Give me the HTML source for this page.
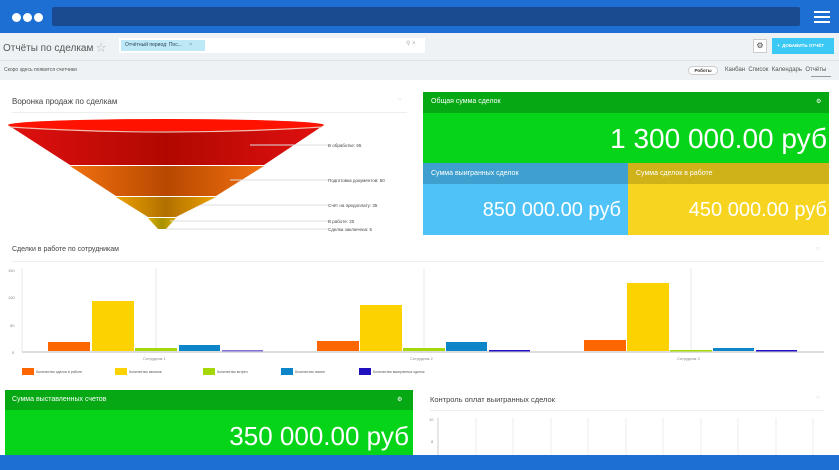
<!DOCTYPE html>
<html><head><meta charset="utf-8"><style>
*{margin:0;padding:0;box-sizing:border-box}
body{width:839px;height:470px;overflow:hidden;background:#fff;font-family:"Liberation Sans","Noto Sans CJK SC",sans-serif;position:relative;color:#333}
div,span{position:absolute}
.t{white-space:nowrap}
</style></head><body>
<div style="left:0;top:0;width:839px;height:33px;background:#1e6fd4"></div>
<div style="left:52px;top:7px;width:748px;height:19px;background:#1a4a8f;border-radius:2px"></div>
<div style="left:12px;top:13px;width:9px;height:9px;border-radius:50%;background:#fff"></div>
<div style="left:23px;top:13px;width:9px;height:9px;border-radius:50%;background:#fff"></div>
<div style="left:34px;top:13px;width:9px;height:9px;border-radius:50%;background:#fff"></div>
<div style="left:814px;top:11px;width:16px;height:2px;background:#fff"></div>
<div style="left:814px;top:16px;width:16px;height:2px;background:#fff"></div>
<div style="left:814px;top:21px;width:16px;height:2px;background:#fff"></div>
<div style="left:0;top:33px;width:839px;height:47px;background:#eef2f4"></div>
<div class="t" style="left:3px;top:39px;font-size:10px;color:#555">Отчёты по сделкам <span style="position:static;color:#bbb">☆</span></div>
<div style="left:119px;top:38px;width:306px;height:15px;background:#fff"></div>
<div class="t" style="left:121px;top:40px;width:84px;height:11px;background:#bde9f7;font-size:5px;padding:2px 4px;color:#345">Отчётный период: Пос... <span style="position:static;color:#789;margin-left:6px">×</span></div>
<div class="t" style="left:406px;top:40px;font-size:6px;color:#aaa">⚲ ×</div>
<div style="left:0;top:60px;width:839px;height:1px;background:#dde3e6"></div>
<div style="left:753px;top:39px;width:14px;height:14px;background:#fff;border:1px solid #ccc;font-size:8px;text-align:center;line-height:12px;color:#444">⚙</div>
<div class="t" style="left:772px;top:38px;width:62px;height:16px;background:#3bc8f5;color:#fff;font-size:4.5px;font-weight:bold;line-height:16px;padding-left:5px">+ &nbsp;ДОБАВИТЬ ОТЧЁТ</div>
<div class="t" style="left:4px;top:67px;font-size:5px;color:#555">Скоро здесь появится счетчики</div>
<div class="t" style="left:688px;top:66px;width:30px;height:9px;border:1px solid #ccc;border-radius:5px;background:#fff;font-size:4.5px;text-align:center;line-height:7px;font-weight:bold">Роботы</div>
<div class="t" style="left:725px;top:67px;font-size:6px;color:#555">Канбан &nbsp;Список &nbsp;Календарь &nbsp;Отчёты</div>
<div style="left:811px;top:76px;width:20px;height:1px;background:#999"></div>

<div class="t" style="left:12px;top:97px;font-size:8px;color:#444">Воронка продаж по сделкам</div>
<div class="t" style="left:398px;top:97px;font-size:6px;color:#ccc">○</div>
<div style="left:12px;top:112px;width:395px;height:1px;background:#eee"></div>
<svg style="position:absolute;left:0;top:110px" width="420" height="125">
<defs>
<linearGradient id="r" x1="0" x2="1"><stop offset="0" stop-color="#e01010"/><stop offset=".5" stop-color="#b00800"/><stop offset="1" stop-color="#e01010"/></linearGradient>
<linearGradient id="o" x1="0" x2="1"><stop offset="0" stop-color="#f07010"/><stop offset=".5" stop-color="#b84800"/><stop offset="1" stop-color="#f07010"/></linearGradient>
<linearGradient id="y" x1="0" x2="1"><stop offset="0" stop-color="#eca000"/><stop offset=".5" stop-color="#b07000"/><stop offset="1" stop-color="#eca000"/></linearGradient>
<linearGradient id="g" x1="0" x2="1"><stop offset="0" stop-color="#d8b000"/><stop offset=".5" stop-color="#a89000"/><stop offset="1" stop-color="#d8b000"/></linearGradient>
</defs>
<polygon points="8,15 324,15 264,55 70,55" fill="url(#r)"/>
<polygon points="70,56 264,56 216,86 116,86" fill="url(#o)"/>
<polygon points="116,87 216,87 176,107 148,107" fill="url(#y)"/>
<polygon points="148,108 176,108 166,119 158,119" fill="url(#g)"/>
<ellipse cx="166" cy="15" rx="158" ry="6" fill="#ff1200"/>
<path d="M10,17 Q166,27 322,17" stroke="#f2c0b0" fill="none" stroke-width="1.2"/>
<g stroke="#ddd" stroke-width="1">
<line x1="250" y1="35" x2="328" y2="35"/><line x1="230" y1="70" x2="328" y2="70"/><line x1="200" y1="95" x2="328" y2="95"/><line x1="170" y1="111" x2="328" y2="111"/><line x1="166" y1="119" x2="328" y2="119"/></g>
<g font-size="4.5" fill="#444" font-family="Liberation Sans,sans-serif">
<text x="328" y="37">В обработке: 65</text><text x="328" y="72">Подготовка документов: 50</text><text x="328" y="97">Счёт на предоплату: 35</text><text x="328" y="113">В работе: 20</text><text x="328" y="121">Сделка заключена: 5</text></g>
</svg>

<div style="left:423px;top:92px;width:406px;height:21px;background:#06a814"></div>
<div class="t" style="left:431px;top:98px;font-size:7px;color:#fff">Общая сумма сделок</div>
<div class="t" style="left:816px;top:98px;font-size:6px;color:#fff">⚙</div>
<div style="left:423px;top:113px;width:406px;height:50px;background:#06d418"></div>
<div class="t" style="right:12px;top:123px;font-size:28px;color:#fff">1 300 000.00 руб</div>
<div style="left:423px;top:163px;width:205px;height:21px;background:#3fa0cf"></div>
<div class="t" style="left:431px;top:170px;font-size:7px;color:#fff">Сумма выигранных сделок</div>
<div style="left:423px;top:184px;width:205px;height:51px;background:#4fc3f7"></div>
<div class="t" style="right:218px;top:199px;font-size:20px;color:#fff">850 000.00 руб</div>
<div style="left:628px;top:163px;width:201px;height:21px;background:#cfb21a"></div>
<div class="t" style="left:636px;top:170px;font-size:7px;color:#fff">Сумма сделок в работе</div>
<div style="left:628px;top:184px;width:201px;height:51px;background:#f7d420"></div>
<div class="t" style="right:12px;top:199px;font-size:20px;color:#fff">450 000.00 руб</div>

<div class="t" style="left:12px;top:246px;font-size:7px;color:#444">Сделки в работе по сотрудникам</div>
<div class="t" style="left:816px;top:246px;font-size:6px;color:#ccc">○</div>
<div style="left:12px;top:261px;width:812px;height:1px;background:#eee"></div>
<svg style="position:absolute;left:0;top:262px" width="839" height="120">
<g stroke="#e8e8e8"><line x1="156" y1="6" x2="156" y2="90"/><line x1="424" y1="6" x2="424" y2="90"/><line x1="691" y1="6" x2="691" y2="90"/><line x1="22" y1="6" x2="22" y2="90"/><line x1="22" y1="90" x2="824" y2="90" stroke="#ddd" stroke-width="2"/></g>
<g font-size="4" fill="#888" font-family="Liberation Sans,sans-serif"><text x="8" y="10">150</text><text x="8" y="37">100</text><text x="10" y="65">50</text><text x="12" y="92">0</text>
<text x="143" y="98">Сотрудник 1</text><text x="410" y="98">Сотрудник 2</text><text x="677" y="98">Сотрудник 3</text></g>
<g>
<rect x="48" y="80" width="42" height="9" fill="#ff6600"/><rect x="92" y="39" width="42" height="50" fill="#fcd200"/><rect x="135" y="86" width="42" height="3" fill="#a4d80a"/><rect x="179" y="83" width="41" height="6" fill="#0c86c8"/><rect x="222" y="88" width="41" height="1.5" fill="#8070d8"/>
<rect x="317" y="79" width="42" height="10" fill="#ff6600"/><rect x="360" y="43" width="42" height="46" fill="#fcd200"/><rect x="403" y="86" width="42" height="3" fill="#a4d80a"/><rect x="446" y="80" width="41" height="9" fill="#0c86c8"/><rect x="489" y="88" width="41" height="1.5" fill="#2010c0"/>
<rect x="584" y="78" width="42" height="11" fill="#ff6600"/><rect x="627" y="21" width="42" height="68" fill="#fcd200"/><rect x="670" y="88" width="42" height="1.5" fill="#a4d80a"/><rect x="713" y="86" width="41" height="3" fill="#0c86c8"/><rect x="756" y="88" width="41" height="1.5" fill="#2010c0"/>
</g>
<g font-size="3.5" fill="#555" font-family="Liberation Sans,sans-serif">
<rect x="22" y="106" width="12" height="7" fill="#ff6600"/><text x="36" y="111">Количество сделок в работе</text>
<rect x="115" y="106" width="12" height="7" fill="#fcd200"/><text x="129" y="111">Количество звонков</text>
<rect x="203" y="106" width="12" height="7" fill="#a4d80a"/><text x="217" y="111">Количество встреч</text>
<rect x="281" y="106" width="12" height="7" fill="#0c86c8"/><text x="295" y="111">Количество писем</text>
<rect x="359" y="106" width="12" height="7" fill="#2010c0"/><text x="373" y="111">Количество выигранных сделок</text></g>
</svg>

<div style="left:5px;top:390px;width:408px;height:20px;background:#06a814"></div>
<div class="t" style="left:12px;top:396px;font-size:7px;color:#fff">Сумма выставленных счетов</div>
<div class="t" style="left:397px;top:396px;font-size:6px;color:#fff">⚙</div>
<div style="left:5px;top:410px;width:408px;height:50px;background:#06d418"></div>
<div class="t" style="right:430px;top:421px;font-size:26px;color:#fff">350 000.00 руб</div>
<div class="t" style="left:430px;top:395px;font-size:7.5px;color:#444">Контроль оплат выигранных сделок</div>
<div class="t" style="left:816px;top:395px;font-size:6px;color:#ccc">○</div>
<div style="left:430px;top:410px;width:394px;height:1px;background:#eee"></div>
<svg style="position:absolute;left:420px;top:412px" width="419" height="50">
<g stroke="#eee"><line x1="18" y1="6" x2="18" y2="50" stroke="#ccc"/><line x1="56" y1="6" x2="56" y2="50"/><line x1="93" y1="6" x2="93" y2="50"/><line x1="131" y1="6" x2="131" y2="50"/><line x1="168" y1="6" x2="168" y2="50"/><line x1="206" y1="6" x2="206" y2="50"/><line x1="243" y1="6" x2="243" y2="50"/><line x1="281" y1="6" x2="281" y2="50"/><line x1="318" y1="6" x2="318" y2="50"/><line x1="356" y1="6" x2="356" y2="50"/><line x1="393" y1="6" x2="393" y2="50"/></g>
<g font-size="4" fill="#888" font-family="Liberation Sans,sans-serif"><text x="9" y="9">10</text><text x="11" y="31">8</text></g>
</svg>
<div style="left:0;top:455px;width:839px;height:15px;background:#1e6fd4"></div>
</body></html>
